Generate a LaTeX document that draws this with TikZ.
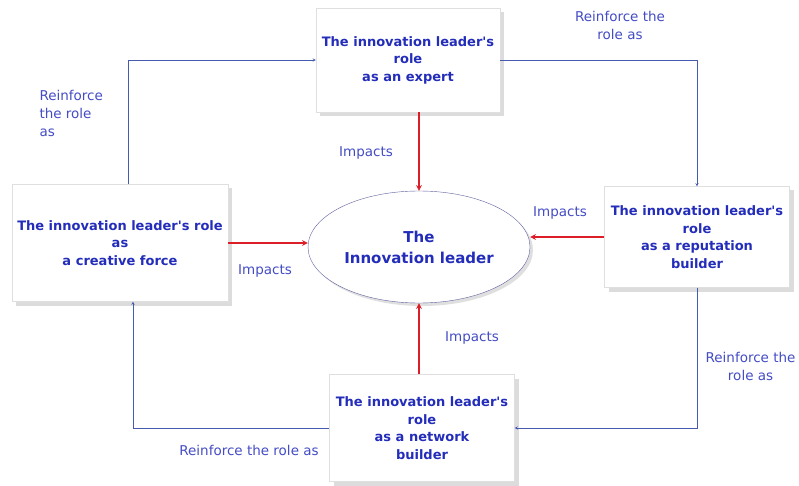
\documentclass[tikz,border=0pt]{standalone}
\usepackage{fontspec}
\setmainfont{DejaVu Sans}
\usepackage{xcolor}
\usepackage{tikz}
\usetikzlibrary{shapes.geometric, arrows, shadows}
\definecolor{roleblue}{RGB}{35,45,185}
\definecolor{linkblue}{RGB}{70,90,175}
\definecolor{impactred}{RGB}{220,30,40}
\tikzstyle{rolebox} = [draw=gray!25, fill=white, drop shadow={shadow xshift=4pt, shadow yshift=-4pt, fill=gray!55}, text=roleblue, align=center, inner xsep=1pt, font=\bfseries\fontsize{13}{17.5}\selectfont]
\tikzstyle{centre} = [ellipse, draw=gray!75!blue, fill=white, drop shadow={shadow xshift=3pt, shadow yshift=-3pt, fill=gray!50}, text=roleblue, align=center, font=\bfseries\fontsize{15}{21}\selectfont]
\tikzstyle{reinforce} = [draw=linkblue, ->, >=stealth]
\tikzstyle{impact} = [draw=impactred, line width=1.5pt, ->, >=stealth]
\tikzstyle{note} = [text=roleblue!85!white, font=\fontsize{13.5}{18}\selectfont]
\newcommand{\innolead}{The innovation leader\textquotesingle s}

\begin{document}
\begin{tikzpicture}[x=1pt,y=-1pt]
	\useasboundingbox (0,0) rectangle (799,486);
	% The four roles:
	\node [rolebox, minimum width=184pt, minimum height=104pt] (expert) at (408,60) {\innolead\\role\\as an expert};
	\node [rolebox, minimum width=216pt, minimum height=117pt] (creative) at (120,243) {\innolead{} role\\as\\a creative force};
	\node [rolebox, minimum width=185pt, minimum height=101pt] (reputation) at (697,237) {\innolead\\role\\as a reputation\\builder};
	\node [rolebox, minimum width=185pt, minimum height=107pt] (network) at (422,428) {\innolead\\role\\as a network\\builder};
	% The leader in the middle:
	\node [centre, minimum width=222pt, minimum height=112pt] (leader) at (419,247) {The\\Innovation leader};

	% Impacts:
	\draw [impact] (expert.south -| leader.north) -- (leader.north);
	\draw [impact] (creative.east) -- (creative.east -| leader.west);
	\draw [impact] (reputation.west) -- (reputation.west -| leader.east);
	\draw [impact] (network.north -| leader.south) -- (leader.south);
	\node [note] (impA) at (366,153) {Impacts};
	\node [note] (impB) at (265,271) {Impacts};
	\node [note] (impC) at (560,213) {Impacts};
	\node [note] (impD) at (472,338) {Impacts};

	% Reinforce the role, going round:
	\draw [reinforce] ([xshift=8pt]creative.north) |- (expert.west);
	\draw [reinforce] (expert.east) -| (reputation.north);
	\draw [reinforce] (reputation.south) |- (network.east);
	\draw [reinforce] (network.west) -| ([xshift=13pt]creative.south);
	\node [note, align=left, anchor=west] (reA) at (36,113) {Reinforce\\the role\\as};
	\node [note, align=center] (reB) at (620,25) {Reinforce the\\role as};
	\node [note, align=center, anchor=east] (reC) at (799,366) {Reinforce the\\role as};
	\node [note] (reD) at (249,450) {Reinforce the role as};
\end{tikzpicture}
\end{document}
